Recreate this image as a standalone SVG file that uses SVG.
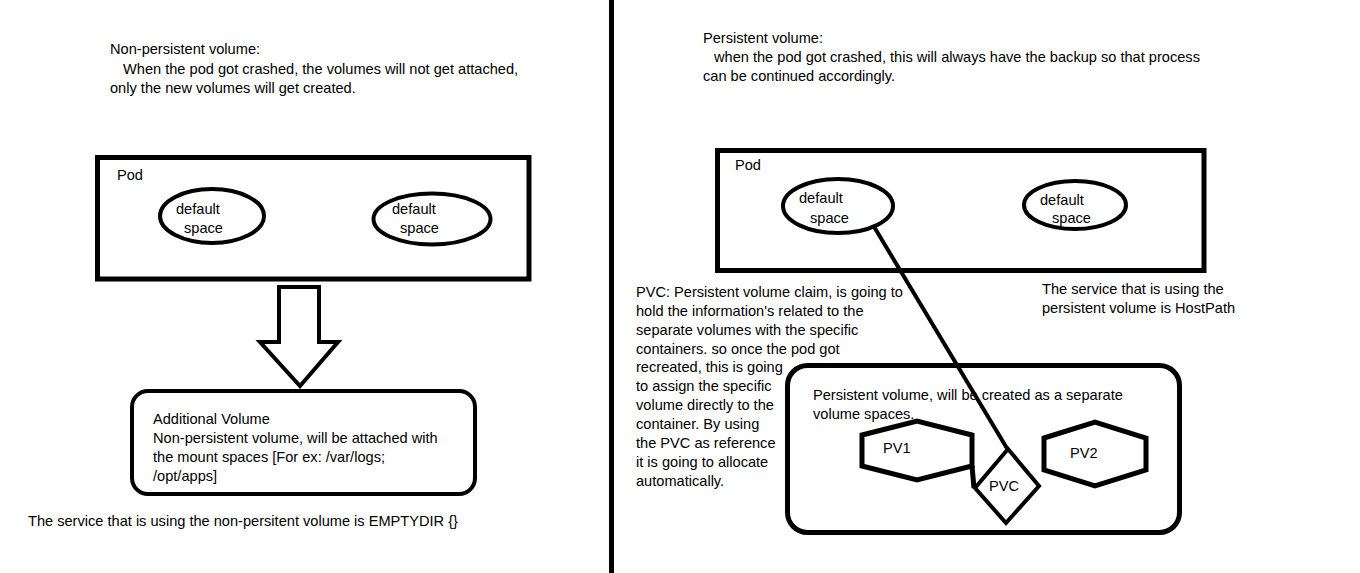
<svg xmlns="http://www.w3.org/2000/svg" width="1360" height="573" viewBox="0 0 1360 573">
<style>
text{font-family:"Liberation Sans",Arial,sans-serif;font-size:14.6px;fill:#000}
.b{fill:none;stroke:#000;stroke-width:5}
.e{fill:none;stroke:#000;stroke-width:4}
</style>
<rect x="0" y="0" width="1360" height="573" fill="#fff"/>
<rect x="609" y="0" width="5" height="573" fill="#000"/>
<g id="left-title">
<text x="110" y="54">Non-persistent volume:</text>
<text x="123" y="74">When the pod got crashed, the volumes will not get attached,</text>
<text x="110" y="93">only the new volumes will get created.</text>
</g>
<g id="left-pod">
<rect class="b" x="97.5" y="157.5" width="431.5" height="121.5"/>
<text x="117" y="180">Pod</text>
</g>
<g id="left-space1">
<ellipse class="e" cx="212" cy="216" rx="52" ry="27"/>
<text x="176" y="214">default</text>
<text x="184" y="233">space</text>
</g>
<g id="left-space2">
<ellipse class="e" cx="432" cy="219" rx="58.5" ry="25.5"/>
<text x="392" y="214">default</text>
<text x="400" y="233">space</text>
</g>
<g id="connectors">
<path class="e" d="M279 287 L319 287 L319 342 L338 342 L300 386 L260 342 L279 342 Z" stroke-linejoin="miter"/>
<path d="M873 225 L1008 450" fill="none" stroke="#000" stroke-width="4"/>
<path d="M972 466 L974 488" fill="none" stroke="#000" stroke-width="5"/>
</g>
<g id="additional-volume">
<rect class="e" x="132" y="391" width="343" height="103" rx="16"/>
<text x="153" y="424">Additional Volume</text>
<text x="153" y="443">Non-persistent volume, will be attached with</text>
<text x="153" y="462">the mount spaces [For ex: /var/logs;</text>
<text x="153" y="481">/opt/apps]</text>
</g>
<g id="left-footer">
<text x="28" y="526">The service that is using the non-persitent volume is EMPTYDIR {}</text>
</g>
<g id="right-title">
<text x="703" y="43">Persistent volume:</text>
<text x="714" y="62">when the pod got crashed, this will always have the backup so that process</text>
<text x="703" y="81">can be continued accordingly.</text>
</g>
<g id="right-pod">
<rect class="b" x="717.5" y="150.5" width="486.5" height="120"/>
<text x="735" y="170">Pod</text>
</g>
<g id="right-space1">
<ellipse class="e" cx="838" cy="206" rx="55" ry="27"/>
<text x="799" y="203">default</text>
<text x="810" y="223">space</text>
</g>
<g id="right-space2">
<ellipse class="e" cx="1075" cy="205" rx="51" ry="24"/>
<text x="1040" y="205">default</text>
<text x="1052" y="223">space</text>
</g>
<g id="pvc-note">
<text x="636" y="297">PVC: Persistent volume claim, is going to</text>
<text x="636" y="316">hold the information's related to the</text>
<text x="636" y="335">separate volumes with the specific</text>
<text x="636" y="354">containers. so once the pod got</text>
<text x="636" y="372">recreated, this is going</text>
<text x="636" y="391">to assign the specific</text>
<text x="636" y="410">volume directly to the</text>
<text x="636" y="429">container. By using</text>
<text x="636" y="448">the PVC as reference</text>
<text x="636" y="467">it is going to allocate</text>
<text x="636" y="486">automatically.</text>
</g>
<g id="hostpath-note">
<text x="1042" y="294">The service that is using the</text>
<text x="1042" y="313">persistent volume is HostPath</text>
</g>
<g id="persistent-volume">
<rect class="b" x="787.5" y="365.5" width="392" height="167" rx="20"/>
<text x="813" y="400">Persistent volume, will be created as a separate</text>
<text x="813" y="419">volume spaces.</text>
</g>
<g id="pv1">
<polygon class="b" points="862,435 917,421 972,435 972,466 917,480 862,466"/>
<text x="883" y="453">PV1</text>
</g>
<g id="pv2">
<polygon class="b" points="1044,438 1095,422 1146,438 1146,470 1095,486 1044,470"/>
<text x="1070" y="458">PV2</text>
</g>
<g id="pvc">
<polygon class="e" points="1008,449 1039,486 1006,523 975,488"/>
<text x="989" y="491">PVC</text>
</g>
</svg>
